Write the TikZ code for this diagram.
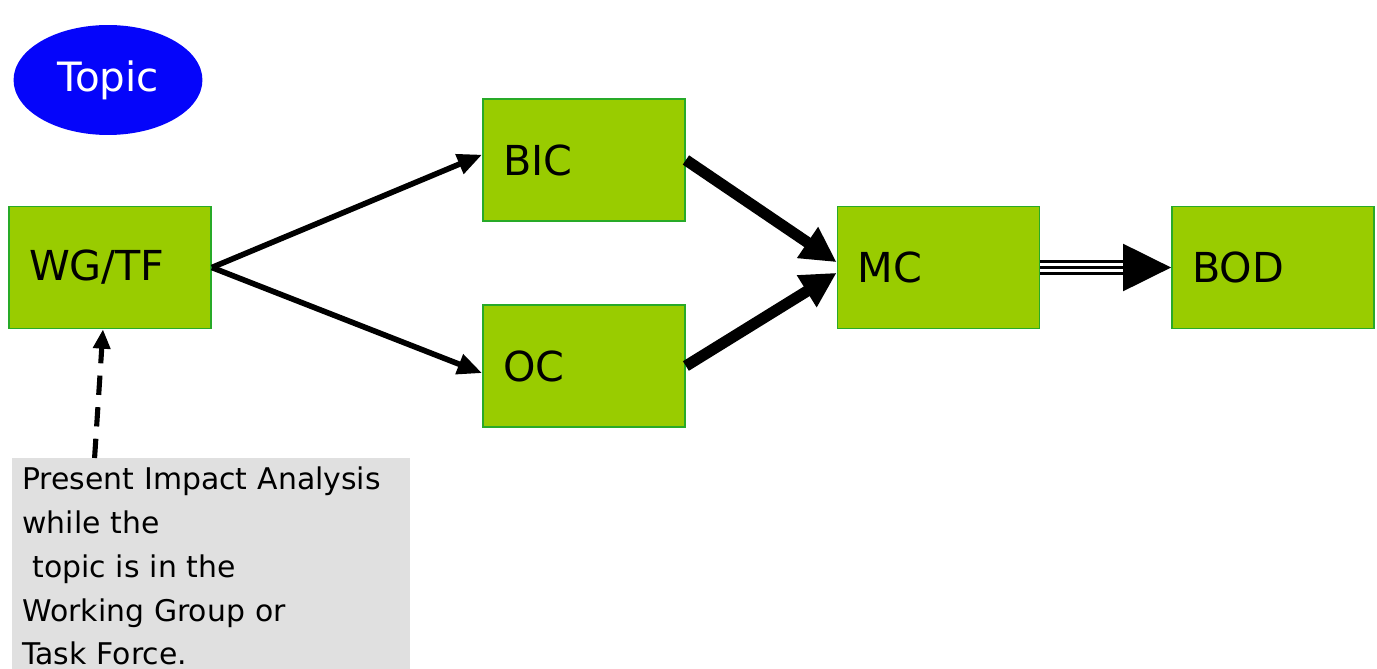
\documentclass[tikz,border=0pt]{standalone}
\usepackage{fontspec}
\setmainfont{DejaVu Sans}
\usetikzlibrary{shapes.geometric,arrows.meta}

\definecolor{boxgreen}{RGB}{153,204,0}
\definecolor{boxedge}{RGB}{40,170,40}
\definecolor{notegray}{RGB}{224,224,224}
\definecolor{topicblue}{RGB}{5,5,250}

\begin{document}
\begin{tikzpicture}[x=0.02cm, y=-0.02cm,
    stage/.style={rectangle, draw=boxedge, line width=1pt, fill=boxgreen,
        minimum height=69.4pt, text width=92.2pt, inner xsep=11.4pt, align=left,
        font=\fontsize{23.5pt}{28pt}\selectfont},
    topic/.style={ellipse, fill=topicblue, text=white, inner sep=0pt,
        minimum width=107.5pt, minimum height=62.6pt,
        font=\fontsize{23pt}{28pt}\selectfont},
    note/.style={fill=notegray, anchor=north west, text width=215pt,
        inner xsep=5.7pt, inner ysep=5pt, align=left,
        font=\fontsize{17pt}{24.9pt}\selectfont},
    feed/.style={line width=3.2pt, -{Triangle[length=14pt,width=11.5pt]}},
    push/.style={line width=6.4pt, -{Triangle[length=20pt,width=20pt]}},
    passon/.style={line width=1.4pt, -{Triangle[length=27.3pt,width=26.7pt]},
        preaction={draw, -, line width=8pt, shorten >=26pt},
        preaction={draw, -, white, line width=5.3pt, shorten >=26pt}},
    report/.style={line width=2.9pt, dash pattern=on 11pt off 7pt,
        -{Triangle[length=11pt,width=9.5pt]}}]

\useasboundingbox (0,0) rectangle (1377,669);

% topic bubble
\node[topic] (topic) at (108,80) {Topic};

% committee boxes
\node[stage] (wgtf) at (110,267.5) {WG/TF};
\node[stage] (bic) at (584,160) {BIC};
\node[stage] (oc) at (584,366) {OC};
\node[stage] (mc) at (938.5,267.5) {MC};
\node[stage] (bod) at (1273,267.5) {BOD};

% impact analysis note
\node[note] (note) at (12,458) {Present Impact Analysis\\
    while the\\
    ~topic is in the\\
    Working Group or\\
    Task Force.};

% flow
\draw[feed] (wgtf.east) -- (bic.177);
\draw[feed] (wgtf.east) -- (oc.184);
\draw[push] (bic.east) -- (mc.177);
\draw[push] (oc.east) -- (mc.183);
\draw[passon] (mc) -- (bod);

% note to WG/TF
\draw[report] ([xshift=47pt]note.north west) -- ([xshift=-4pt]wgtf.south);

\end{tikzpicture}
\end{document}
